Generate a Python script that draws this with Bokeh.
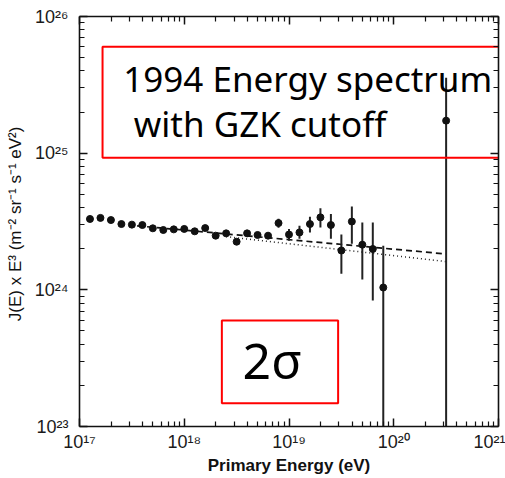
from bokeh.plotting import figure
from bokeh.models import Range1d, LogAxis, FixedTicker, CustomJSTickFormatter, BoxAnnotation, Label
from bokeh.embed import file_html
from bokeh.resources import INLINE

# ---- data ----
log_energy = [17.1, 17.2, 17.3, 17.4, 17.5, 17.6, 17.7, 17.8, 17.9, 18.0,
              18.1, 18.2, 18.3, 18.4, 18.5, 18.6, 18.7, 18.8, 18.9, 19.0,
              19.1, 19.2, 19.3, 19.4, 19.5, 19.6, 19.7, 19.8, 19.9, 20.5]
# J(E) x E^3 in units of 1e24 m^-2 sr^-1 s^-1 eV^2
flux = [3.30, 3.36, 3.24, 3.03, 3.00, 2.98, 2.82, 2.74, 2.77, 2.79,
        2.68, 2.83, 2.49, 2.59, 2.25, 2.59, 2.52, 2.49, 3.08, 2.54,
        2.63, 3.03, 3.39, 2.98, 1.94, 3.16, 2.14, 1.99, 1.04, 17.3]
flux_hi = [3.40, 3.46, 3.33, 3.12, 3.09, 3.07, 2.90, 2.82, 2.85, 2.87,
           2.77, 2.92, 2.58, 2.68, 2.35, 2.70, 2.64, 2.62, 3.31, 2.79,
           2.94, 3.43, 3.95, 3.59, 2.54, 4.07, 3.11, 3.11, 2.10, 35.7]
flux_lo = [3.20, 3.26, 3.15, 2.94, 2.91, 2.89, 2.74, 2.66, 2.69, 2.71,
           2.59, 2.74, 2.40, 2.50, 2.15, 2.48, 2.40, 2.36, 2.85, 2.29,
           2.36, 2.63, 2.86, 2.36, 1.31, 2.17, 1.19, 0.834, 0.01, 0.01]

dash_log_energy = [17.55, 20.5]
dash_flux = [2.94, 1.83]
dot_log_energy = [18.4, 20.5]
dot_flux = [2.45, 1.61]

x_decades = [17, 18, 19, 20, 21]
y_decades = [23, 24, 25, 26]
mantissas_minor = [2, 3, 4, 5, 6, 7, 8, 9]

unit = 1e24
E = [10 ** v for v in log_energy]
J = [v * unit for v in flux]
J_hi = [v * unit for v in flux_hi]
J_lo = [v * unit for v in flux_lo]

x_major = [10.0 ** d for d in x_decades]
x_minor = [m * 10.0 ** d for d in x_decades[:-1] for m in mantissas_minor]
y_major = [10.0 ** d for d in y_decades]
y_minor = [m * 10.0 ** d for d in y_decades[:-1] for m in mantissas_minor]

p = figure(width=505, height=478, x_axis_type="log", y_axis_type="log",
           x_range=Range1d(x_major[0], x_major[-1]),
           y_range=Range1d(y_major[0], y_major[-1]),
           output_backend="svg", toolbar_location=None,
           min_border_left=79, min_border_right=7, min_border_top=16,
           min_border_bottom=52, outline_line_color=None,
           background_fill_color="white", border_fill_color="white")
p.grid.visible = False

power_fmt = CustomJSTickFormatter(code="""
const sup = {"0":"\u2070","1":"\u00b9","2":"\u00b2","3":"\u00b3","4":"\u2074",
             "5":"\u2075","6":"\u2076","7":"\u2077","8":"\u2078","9":"\u2079","-":"\u207b"};
const e = Math.round(Math.log10(tick));
return "10" + String(e).split("").map(c => sup[c]).join("");
""")
blank_fmt = CustomJSTickFormatter(code='return "";')

def style_axis(ax, labels=True):
    ax.axis_line_width = 1.6
    ax.axis_line_color = "#111111"
    ax.major_tick_in = 8
    ax.major_tick_out = 0
    ax.minor_tick_in = 5
    ax.minor_tick_out = 0
    ax.major_tick_line_width = 1.5
    ax.minor_tick_line_width = 1.2
    ax.major_tick_line_color = "#111111"
    ax.minor_tick_line_color = "#111111"
    ax.major_label_text_font = "Liberation Sans"
    ax.major_label_text_font_size = "18px"
    ax.major_label_text_color = "#1a1a1a"
    if labels:
        ax.formatter = power_fmt
    else:
        ax.formatter = blank_fmt
        ax.major_label_standoff = 0

xa = p.xaxis[0]
xa.ticker = FixedTicker(ticks=x_major, minor_ticks=x_minor)
style_axis(xa)
xa.major_label_standoff = 5
xa.axis_label = "Primary Energy (eV)"
xa.axis_label_text_font = "Liberation Sans"
xa.axis_label_text_font_style = "bold"
xa.axis_label_text_font_size = "17px"
xa.axis_label_text_color = "#111111"
xa.axis_label_standoff = 1

ya = p.yaxis[0]
ya.ticker = FixedTicker(ticks=y_major, minor_ticks=y_minor)
style_axis(ya)
ya.major_label_standoff = 11
ya.axis_label = "J(E) x E³  (m⁻² sr⁻¹ s⁻¹ eV²)"
ya.axis_label_text_font = "Liberation Sans"
ya.axis_label_text_font_style = "normal"
ya.axis_label_text_font_size = "17px"
ya.axis_label_text_color = "#111111"
ya.axis_label_standoff = 7

ra = LogAxis(ticker=FixedTicker(ticks=y_major, minor_ticks=y_minor))
style_axis(ra, labels=False)
p.add_layout(ra, "right")
ta = LogAxis(ticker=FixedTicker(ticks=x_major, minor_ticks=x_minor))
style_axis(ta, labels=False)
p.add_layout(ta, "above")

# model lines
p.line([10 ** v for v in dash_log_energy], [v * unit for v in dash_flux],
       line_color="#111111", line_width=1.7, line_dash="6 4")
p.line([10 ** v for v in dot_log_energy], [v * unit for v in dot_flux],
       line_color="#222222", line_width=1.5, line_dash="1 3")

# error bars and points
p.segment(x0=E, y0=J_lo, x1=E, y1=J_hi, line_color="#222222", line_width=2)
p.scatter(E, J, size=7, marker="circle", fill_color="#111111", line_color="#111111")

# red annotation boxes (first one runs off the right edge)
p.quad(left=[10 ** 17.22], right=[10 ** 22.0], top=[10 ** 25.778], bottom=[10 ** 24.966],
       fill_color=None, line_color="#ff0000", line_width=2)
box2 = BoxAnnotation(left=10 ** 18.359, right=10 ** 19.469, top=10 ** 23.775, bottom=10 ** 23.17,
                     fill_color=None, fill_alpha=0, line_color="#ff0000", line_alpha=1.0,
                     line_width=2)
p.add_layout(box2)

p.add_layout(Label(x=10 ** 17.418, y=10 ** 25.55, text="1994 Energy spectrum",
                   text_font="Noto Sans", text_font_size="35px", text_color="black",
                   text_baseline="alphabetic", text_align="left"))
p.add_layout(Label(x=10 ** 17.518, y=10 ** 25.22, text="with GZK cutoff",
                   text_font="Noto Sans", text_font_size="35px", text_color="black",
                   text_baseline="alphabetic", text_align="left"))
p.add_layout(Label(x=10 ** 18.557, y=10 ** 23.49, text="2σ",
                   text_font="Noto Sans", text_font_size="50px", text_color="black",
                   text_baseline="alphabetic", text_align="left"))

open("out.html", "w").write(file_html(p, INLINE))
